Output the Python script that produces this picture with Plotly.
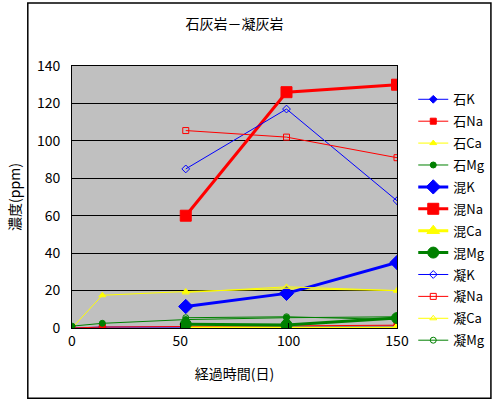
import plotly.graph_objects as go

# Data
days_ishi = [0, 14, 52.5, 99, 150]
ishi_K = [0, 0.5, 0.5, 0.8, 1]
ishi_Na = [0, 0.5, 0.8, 1, 1.5]
ishi_Ca = [0, 17.5, 19.5, 21, 20]
ishi_Mg = [1, 2.5, 4.5, 5.5, 6]

days_kon = [52.5, 99, 150]
kon_K = [11.5, 18.5, 35]
kon_Na = [60, 126, 130]
kon_Ca = [0, 0, 0]
kon_Mg = [2, 1.6, 5.3]

days_gyo = [52.5, 99, 150]
gyo_K = [85, 117, 68]
gyo_Na = [105.5, 102, 91]
gyo_Ca = [19, 22, 20]
gyo_Mg = [5.5, 6, 4.5]

names = ["石K", "石Na", "石Ca", "石Mg", "混K", "混Na", "混Ca", "混Mg", "凝K", "凝Na", "凝Ca", "凝Mg"]
colors = ["#0000FF", "#FF0000", "#FFFF00", "#008000"]
symbols = ["diamond", "square", "triangle-up", "circle"]

fig = go.Figure()
groups = [
    (days_ishi, [ishi_K, ishi_Na, ishi_Ca, ishi_Mg], 1, 6, ""),
    (days_kon, [kon_K, kon_Na, kon_Ca, kon_Mg], 3, 11, ""),
    (days_gyo, [gyo_K, gyo_Na, gyo_Ca, gyo_Mg], 1, 6, "-open"),
]
i = 0
for xs, series, lw, ms, suffix in groups:
    for j, ys in enumerate(series):
        fig.add_trace(go.Scatter(
            x=xs, y=ys, name=names[i], legendgroup=names[i],
            mode="lines+markers",
            line=dict(color=colors[j], width=lw),
            marker=dict(symbol=symbols[j] + suffix, size=ms, color=colors[j],
                        line=dict(color=colors[j], width=1)),
        ))
        i += 1

font = "Noto Sans CJK JP, sans-serif"
fig.update_layout(
    width=500, height=400,
    margin=dict(l=72, r=103, t=66, b=72, autoexpand=False),
    paper_bgcolor="white", plot_bgcolor="#C0C0C0",
    font=dict(family=font, size=13, color="black"),
    title=dict(text="石灰岩－凝灰岩", x=0.5, xref="paper", y=0.94, yanchor="middle",
               font=dict(size=14)),
    showlegend=True,
    legend=dict(x=1.05, xanchor="left", y=0.93, yanchor="top",
                maxheight=330,
                bgcolor="rgba(0,0,0,0)", tracegroupgap=2,
                font=dict(size=13), itemwidth=30),
    xaxis=dict(range=[0, 150], tickvals=[0, 50, 100, 150], showgrid=False,
               zeroline=False, showline=True, linecolor="black", mirror=True,
               ticks="inside", ticklen=5, tickcolor="black",
               tickfont=dict(size=14),
               title=dict(text="経過時間(日)", standoff=20, font=dict(size=14))),
    yaxis=dict(range=[0, 140], dtick=20, showgrid=True, gridcolor="black", gridwidth=1,
               zeroline=False, showline=True, linecolor="black", mirror=True,
               tickfont=dict(size=14), ticklabelstandoff=8,
               title=dict(text="濃度(ppm)", standoff=12, font=dict(size=14))),
    shapes=[dict(type="rect", xref="paper", yref="paper", x0=-0.136, x1=1.289,
                 y0=-0.268, y1=1.24, line=dict(color="black", width=1.5))],
)

fig.write_html("out.html")
